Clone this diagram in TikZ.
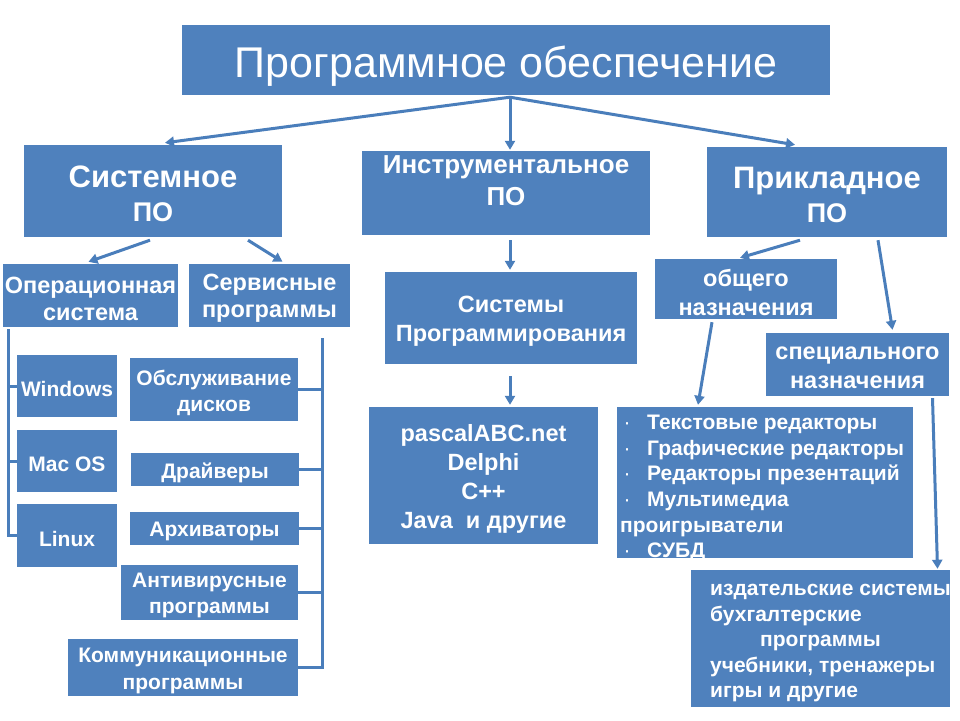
\documentclass[tikz,border=0pt]{standalone}
\usepackage{fontspec}
\setmainfont{Liberation Sans}
\usetikzlibrary{arrows.meta,calc}
\definecolor{boxblue}{RGB}{79,129,189}
\definecolor{lineblue}{RGB}{74,126,187}
\newcommand{\fs}[2]{\fontsize{#1}{#2}\selectfont}
% \bx{name}{cx}{cy}{w}{h}{font}{text}
\newcommand{\bx}[7]{%
  \node[box, minimum width=#4, minimum height=#5] (#1) at (#2,#3) {};
  \node[lbl, font=\bfseries#6] (#1-t) at ([yshift=-3pt]#1.center) {#7};}
\tikzset{
  box/.style={fill=boxblue, draw=none, inner sep=0pt},
  lbl/.style={text=white, inner sep=0pt, align=center, font=\bfseries},
  conn/.style={draw=lineblue, line width=3pt, -{Triangle[width=10pt,length=9pt]}},
  brk/.style={draw=lineblue, line width=3pt},
}
\begin{document}
\begin{tikzpicture}[x=1pt,y=-1pt]
\useasboundingbox (0,0) rectangle (960,720);
\fill[white] (0,0) rectangle (960,720);
% top
\node[box, minimum width=648, minimum height=70] (title) at (506,60) {};
\node[lbl, anchor=base, font=\fs{43}{48}] (titlet) at (506,77) {Программное обеспечение};
\bx{sys}{153}{191}{258}{92}{\fs{31}{34}}{Системное\\\fs{27}{30}ПО}
\node[box, minimum width=288, minimum height=84] (instr) at (506,193) {};
\node[lbl, font=\bfseries\fs{26}{32}, anchor=north] (instrt) at (506,155) {Инструментальное\\ПО};
\bx{appl}{827}{192}{240}{90}{\fs{31}{34}}{Прикладное\\\fs{27}{30}ПО}
% system
\bx{os}{90.5}{295.5}{175}{63}{\fs{23.5}{27}}{Операционная\\система}
\bx{serv}{269.5}{295.5}{161}{63}{\fs{23.5}{27}}{Сервисные\\программы}
\bx{win}{67}{386}{100}{62}{\fs{21}{24}}{Windows}
\bx{mac}{67}{461}{100}{62}{\fs{21}{24}}{Mac OS}
\bx{lin}{67}{535.5}{100}{63}{\fs{21}{24}}{Linux}
\bx{dis}{214}{389.5}{168}{63}{\fs{21}{26}}{Обслуживание\\дисков}
\bx{drv}{215}{469.5}{168}{33}{\fs{21}{24}}{Драйверы}
\bx{arc}{214.5}{528.5}{169}{33}{\fs{21}{24}}{Архиваторы}
\bx{av}{209.5}{592.5}{177}{55}{\fs{21}{26}}{Антивирусные\\программы}
\bx{com}{183}{667.5}{230}{57}{\fs{21}{27}}{Коммуникационные\\программы}
% instrumental
\bx{sp}{511}{318}{252}{92}{\fs{23.5}{29}}{Системы\\Программирования}
\bx{pas}{483.5}{475.5}{229}{137}{\fs{23.5}{29}}{pascalABC.net\\Delphi\\C++\\Java\ \ и другие}
% applied
\node[box, minimum width=182, minimum height=60] (gen) at (746,289) {};
\node[lbl, font=\bfseries\fs{23.5}{29}] (gent) at (746,292) {общего\\назначения};
\bx{spec}{857.5}{364.5}{183}{63}{\fs{23.5}{29}}{специального\\назначения}
\node[box, minimum width=296, minimum height=151] (list) at (765,482.5) {};
\node[lbl, anchor=north west, align=left, font=\bfseries\fs{21}{25.6}] (listt) at (620,415)
  {\makebox[27pt][l]{\mdseries\,·}Текстовые редакторы\\
   \makebox[27pt][l]{\mdseries\,·}Графические редакторы\\
   \makebox[27pt][l]{\mdseries\,·}Редакторы презентаций\\
   \makebox[27pt][l]{\mdseries\,·}Мультимедиа\\
   проигрыватели\\
   \makebox[27pt][l]{\mdseries\,·}СУБД};
\node[box, minimum width=259, minimum height=137] (izd) at (820.5,638.5) {};
\begin{scope}
\clip (izd.south west) rectangle (izd.north east);
\node[lbl, anchor=north west, align=left, font=\bfseries\fs{21}{25.5}] (izdt) at (710,584)
  {издательские системы\\
   бухгалтерские\\
   \hspace*{50pt}программы\\
   учебники, тренажеры\\
   игры и другие};
\end{scope}
% connectors
\draw[conn] ([xshift=4pt,yshift=-2pt]title.south) -- ([xshift=12pt,yshift=2pt]sys.north);
\draw[conn] ([xshift=4pt,yshift=-2pt]title.south) -- ([xshift=4pt,yshift=1pt]instr.north);
\draw[conn] ([xshift=4pt,yshift=-2pt]title.south) -- ([xshift=-32pt,yshift=2pt]appl.north);
\draw[conn] ([xshift=-3pt,yshift=-3pt]sys.south) -- ([xshift=-2pt,yshift=2pt]os.north);
\draw[conn] ([xshift=95pt,yshift=-3pt]sys.south) -- ([xshift=13pt,yshift=2pt]serv.north);
\draw[conn] ([xshift=4pt,yshift=-5pt]instr.south) -- ([xshift=-1pt,yshift=2pt]sp.north);
\draw[conn] ([xshift=-1pt,yshift=-12pt]sp.south) -- ([xshift=26.5pt,yshift=2pt]pas.north);
\draw[conn] ([xshift=-27pt,yshift=-3pt]appl.south) -- ([xshift=-6pt,yshift=1pt]gen.north);
\draw[conn] ([xshift=51pt,yshift=-3pt]appl.south) -- ([xshift=35pt,yshift=3pt]spec.north);
\draw[conn] ([xshift=-34pt,yshift=-3pt]gen.south) -- ([xshift=-67pt,yshift=2pt]list.north);
\draw[conn] ([xshift=75pt,yshift=-2pt]spec.south) -- ([xshift=117pt,yshift=1pt]izd.north);
% brackets
\coordinate (lb) at (8,329);
\draw[brk] (lb) |- (lin.west);
\draw[brk] (win.west) -- (win.west -| lb);
\draw[brk] (mac.west) -- (mac.west -| lb);
\coordinate (rb) at (322,338);
\draw[brk] (rb) |- (com.east);
\draw[brk] (dis.east) -- (dis.east -| rb);
\draw[brk] (drv.east) -- (drv.east -| rb);
\draw[brk] (arc.east) -- (arc.east -| rb);
\draw[brk] (av.east) -- (av.east -| rb);
\end{tikzpicture}
\end{document}
